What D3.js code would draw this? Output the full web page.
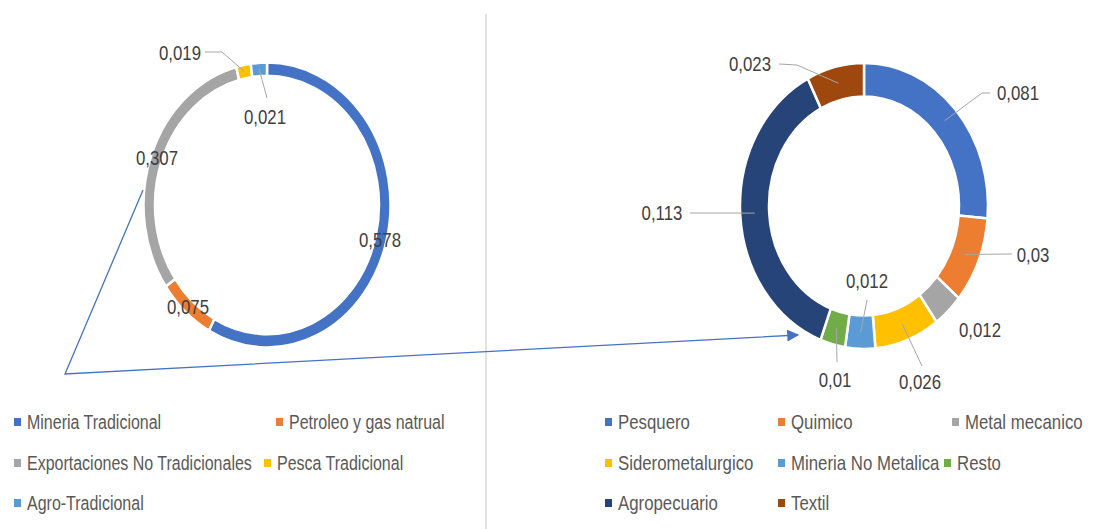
<!DOCTYPE html>
<html>
<head>
<meta charset="utf-8">
<script src="https://cdn.jsdelivr.net/npm/d3@7"></script>
<style>
  body { margin: 0; background: #fff; }
  svg text { font-family: "Liberation Sans", Arial, sans-serif; fill: #595959; }
</style>
</head>
<body>
<div id="chart"></div>
<script>
// data - left donut
const leftCategories = ['Mineria Tradicional', 'Petroleo y gas natrual', 'Exportaciones No Tradicionales', 'Pesca Tradicional', 'Agro-Tradicional'];
const leftValues = [0.578, 0.075, 0.307, 0.019, 0.021];

// data - right donut (breakdown of the non traditional exports)
const rightCategories = ['Pesquero', 'Quimico', 'Metal mecanico', 'Siderometalurgico', 'Mineria No Metalica', 'Resto', 'Agropecuario', 'Textil'];
const rightValues = [0.081, 0.03, 0.012, 0.026, 0.012, 0.01, 0.113, 0.023];

const leftColors = ['#4472C4', '#ED7D31', '#A5A5A5', '#FFC000', '#5B9BD5'];
const rightColors = ['#4472C4', '#ED7D31', '#A5A5A5', '#FFC000', '#5B9BD5', '#70AD47', '#264478', '#9E480E'];

const w = 1099, h = 529;
const stretch = 1.153; // picture is taller than wide
const narrow = 0.82;   // squeeze text like a narrow font

const svg = d3.select('#chart')
  .append('svg')
  .attr('width', w)
  .attr('height', h);

const fmt = v => String(v).replace('.', ',');

// label layout: label position and leader bend points in page coords, null = no leader
const leftLabels = [
  { at: [380, 240], leader: null },
  { at: [188, 307], leader: null },
  { at: [157, 158], leader: null },
  { at: [180, 53], leader: [[222, 52], [205, 52]] },
  { at: [265, 117], leader: [[267, 98]] }
];
const rightLabels = [
  { at: [1018, 93], leader: [[982, 93], [990, 93]] },
  { at: [1033, 255], leader: [[1012, 254]] },
  { at: [980, 330], leader: null },
  { at: [920, 382], leader: [[922, 366]] },
  { at: [867, 281], leader: [[867, 300]] },
  { at: [835, 380], leader: [[837, 362]] },
  { at: [662, 213], leader: [[690, 213]] },
  { at: [750, 64], leader: [[797, 65], [779, 64]] }
];

function donut(values, colors, labels, cx, cy, rOuter, rInner) {
  const pie = d3.pie().sort(null).value(d => d);
  const arc = d3.arc().innerRadius(rInner).outerRadius(rOuter);
  const arcs = pie(values);

  const g = svg.append('g')
    .attr('transform', `translate(${cx},${cy}) scale(1,${stretch})`);

  g.selectAll('path')
    .data(arcs)
    .enter()
    .append('path')
    .attr('d', arc)
    .style('fill', (d, i) => colors[i])
    .style('stroke', '#fff')
    .style('stroke-width', 2.5)
    .attr('vector-effect', 'non-scaling-stroke');

  // leader lines from the slice centre out to the label
  arcs.forEach((d, i) => {
    const lab = labels[i];
    if (!lab.leader) return;
    const c = arc.centroid(d);
    const pts = [[cx + c[0], cy + c[1] * stretch]].concat(lab.leader);
    svg.append('polyline')
      .attr('points', pts.map(p => p.join(',')).join(' '))
      .style('fill', 'none')
      .style('stroke', '#A6A6A6')
      .style('stroke-width', 1);
  });

  svg.append('g')
    .selectAll('text')
    .data(arcs)
    .enter()
    .append('text')
    .attr('transform', (d, i) => `translate(${labels[i].at[0]},${labels[i].at[1]}) scale(${narrow},1)`)
    .attr('text-anchor', 'middle')
    .attr('dominant-baseline', 'central')
    .style('font-size', '20.5px')
    .style('fill', '#404040')
    .text(d => fmt(d.data));
}

donut(leftValues, leftColors, leftLabels, 267, 205, 123.5, 112);
donut(rightValues, rightColors, rightLabels, 864, 206, 124, 95);

// divider between the two charts
svg.append('line')
  .attr('x1', 486).attr('x2', 486)
  .attr('y1', 14).attr('y2', h)
  .style('stroke', '#D9D9D9')
  .style('stroke-width', 1.5);

// arrow linking Exportaciones No Tradicionales to the right donut
svg.append('defs')
  .append('marker')
  .attr('id', 'arrow')
  .attr('viewBox', '0 0 10 10')
  .attr('refX', 9).attr('refY', 5)
  .attr('markerWidth', 12).attr('markerHeight', 12)
  .attr('markerUnits', 'userSpaceOnUse')
  .attr('orient', 'auto')
  .append('path')
  .attr('d', 'M0,0 L10,5 L0,10 z')
  .style('fill', '#4472C4');

svg.append('polyline')
  .attr('points', '143,190 65,374 798,335')
  .style('fill', 'none')
  .style('stroke', '#4472C4')
  .style('stroke-width', 1.3)
  .attr('marker-end', 'url(#arrow)');

// legends
const rowsY = [422, 463, 503];
const leftLegendPos = [[14, 0], [276, 0], [14, 1], [264, 1], [14, 2]];
const rightLegendPos = [[605, 0], [778, 0], [952, 0], [605, 1], [778, 1], [944, 1], [605, 2], [778, 2]];

function legend(categories, colors, pos, size) {
  const items = svg.append('g')
    .selectAll('g')
    .data(categories)
    .enter()
    .append('g')
    .attr('transform', (d, i) => `translate(${pos[i][0]},${rowsY[pos[i][1]]})`);
  items.append('rect')
    .attr('x', 0).attr('y', -4)
    .attr('width', 7).attr('height', 8)
    .style('fill', (d, i) => colors[i]);
  items.append('text')
    .attr('transform', `translate(13,0) scale(${narrow},1)`)
    .attr('dominant-baseline', 'central')
    .style('font-size', size)
    .text(d => d);
}

legend(leftCategories, leftColors, leftLegendPos, '19.5px');
legend(rightCategories, rightColors, rightLegendPos, '20.5px');
</script>
</body>
</html>
